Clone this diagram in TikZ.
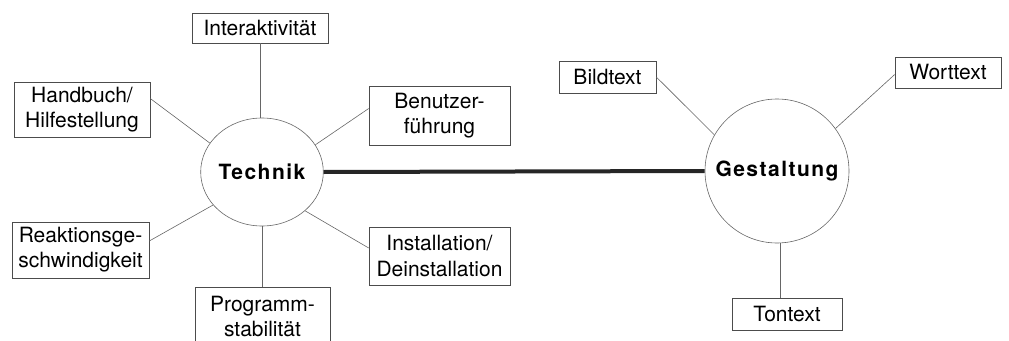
\documentclass[tikz,border=0pt]{standalone}
\usepackage{fontspec}
\setmainfont{TeX Gyre Heros}
\usetikzlibrary{shapes.geometric}

\begin{document}
\begin{tikzpicture}[x=1pt, y=-1pt,
    font=\fontsize{21}{25}\selectfont,
    box/.style args={#1x#2}{draw=black!70, line width=0.6pt, align=center,
      inner sep=0pt, minimum width=#1pt, minimum height=#2pt},
    hub/.style={draw=black!60, line width=0.6pt, ellipse, inner sep=0pt,
      font=\fontsize{21}{25}\selectfont\bfseries\addfontfeature{LetterSpace=7}},
    link/.style={draw=black!60, line width=0.6pt}]
    \useasboundingbox (0,0) rectangle (1009,340);

    % Technik and its aspects
    \node[hub, minimum width=120pt, minimum height=108pt] (technik) at (262,172) {Technik};
    \node[box=136x30] (interakt) at (260,28) {Interaktivität};
    \node[box=136x55] (handbuch) at (82,109.5) {Handbuch/\\Hilfestellung};
    \node[box=141x59] (benutzer) at (439.5,115.5) {Benutzer-\\führung};
    \node[box=137x56] (reaktion) at (80.5,250) {Reaktionsge-\\schwindigkeit};
    \node[box=141x58] (install) at (439.5,256) {Installation/\\Deinstallation};
    \node[box=135x58] (programm) at (262.5,316) {Programm-\\stabilität};

    \draw[link] (interakt.south) -- (interakt.south |- technik.north);
    \draw[link] ([yshift=11pt]handbuch.east) -- (technik.151);
    \draw[link] ([yshift=7pt]benutzer.west) -- (technik.27);
    \draw[link] ([yshift=9pt]reaktion.east) -- (technik.214);
    \draw[link] ([yshift=8pt]install.west) -- (technik.318);
    \draw[link] (technik.south) -- (technik.south |- programm.north);

    % Gestaltung and its aspects
    \node[hub, circle, minimum size=144pt] (gestalt) at (777,171) {Gestaltung};
    \node[box=97x32] (bildtext) at (607.5,77) {Bildtext};
    \node[box=106x31] (worttext) at (948,72.5) {Worttext};
    \node[box=110x32] (tontext) at (787,314) {Tontext};

    \draw[link] (bildtext.east) -- (gestalt.150);
    \draw[link] ([yshift=-2pt]worttext.west) -- (gestalt.36);
    \draw[link] ([xshift=3pt]gestalt.south) -- ([xshift=3pt]gestalt.south |- tontext.north);

    % connection between both
    \draw[line width=4pt, black!85] (technik.east) -- (gestalt.west);
\end{tikzpicture}
\end{document}
